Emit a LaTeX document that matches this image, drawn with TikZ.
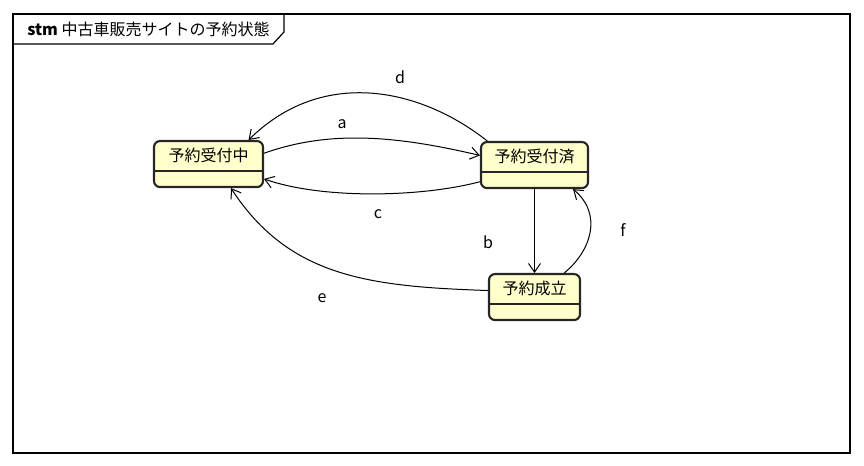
\documentclass[tikz,border=0pt]{standalone}
\usepackage{fontspec}
\newfontfamily\jpfont{Noto Sans CJK JP}
\usetikzlibrary{arrows.meta}
\definecolor{statefill}{HTML}{FFFFCC}
\tikzset{
  state/.style={rectangle, draw=black!85, line width=1.6pt, rounded corners=4.5pt, fill=statefill,
    anchor=north, inner sep=0pt, minimum height=46*0.75pt, text height=15.5pt, text depth=19pt,
    path picture={\draw[line width=1pt] ([yshift=-22.5pt]path picture bounding box.north west)
      -- ([yshift=-22.5pt]path picture bounding box.north east);}},
  trans/.style={line width=0.75pt, -{Straight Barb[length=6.5pt,width=9pt]}},
  lbl/.style={inner sep=0pt}
}
\begin{document}
\begin{tikzpicture}[x=0.75pt,y=0.75pt,font=\jpfont\fontsize{12}{14}\selectfont]
\useasboundingbox (0,0) rectangle (864,466);

% frame
\draw[line width=0.9pt] (13,13) rectangle (850,452);
\draw[line width=0.9pt] (284,452) -- (284,434) -- (273,422) -- (13,422);
\node[anchor=west, inner sep=0pt] (title) at (27,437) {{\bfseries stm} 中古車販売サイトの予約状態};

% states
\node[state, minimum width=109*0.75pt] (wait) at (208.5,326) {予約受付中};
\node[state, minimum width=107*0.75pt] (booked) at (534.5,325) {予約受付済};
\node[state, minimum width=91*0.75pt] (done) at (534.5,193) {予約成立};

% transitions
\draw[trans] (wait.11) .. controls +(67,24) and +(-81,19) .. (booked.170);
\draw[trans] (booked.153) .. controls +(-67,53) and +(74,73) .. (wait.31);
\draw[trans] (booked.197) .. controls +(-61,-16) and +(57,-20) .. (wait.345);
\draw[trans] (booked.south) -- (done.north);
\draw[trans] (done.39) .. controls +(27,22) and +(30,-25) .. (booked.328);
\draw[trans] (done.172) .. controls +(-119,4) and +(58,-89) .. (wait.313);

\node[lbl] (la) at (342,342) {a};
\node[lbl] (lb) at (488,224) {b};
\node[lbl] (lc) at (378,252) {c};
\node[lbl] (ld) at (400,389) {d};
\node[lbl] (le) at (322,168) {e};
\node[lbl] (lf) at (623,236) {f};
\end{tikzpicture}
\end{document}
